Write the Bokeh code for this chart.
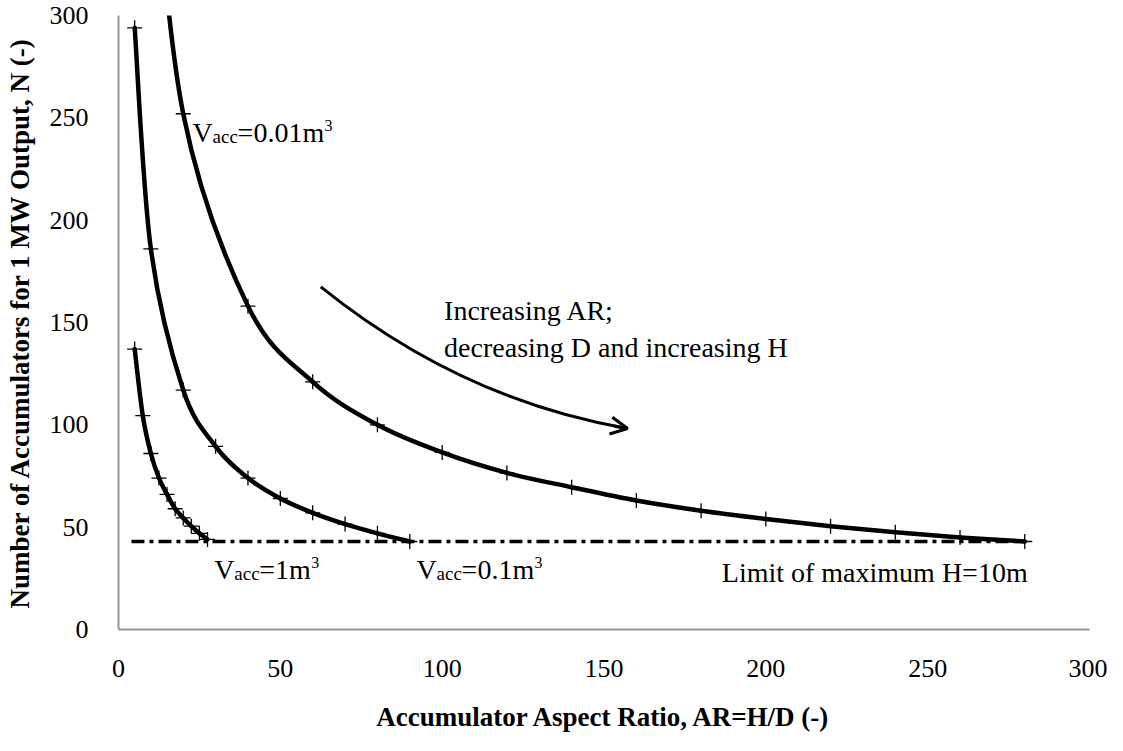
from bokeh.plotting import figure
from bokeh.models import Range1d, FixedTicker, Arrow, OpenHead
from bokeh.embed import file_html
from bokeh.resources import INLINE
from bokeh.core.properties import value

# ---------------- data ----------------
# V_acc = 0.01 m3 (first point lies above the plotted range)
ar_v001 = [10, 20, 40, 60, 80, 100, 120, 140, 160, 180, 200, 220, 240, 260, 280]
n_v001 = [395, 252, 158, 121, 100, 86.5, 76.5, 69.5, 63, 58, 54, 50.5, 47.5, 45, 43]
# V_acc = 0.1 m3
ar_v01 = [5, 10, 20, 30, 40, 50, 60, 70, 80, 90]
n_v01 = [294, 186, 117, 89.5, 74, 64, 57, 51.5, 47, 43]
# V_acc = 1 m3
ar_v1 = [5, 7.5, 10, 12.5, 15, 17.5, 20, 22.5, 25, 27.5]
n_v1 = [137, 104.5, 86, 74, 66, 59, 54.5, 50.5, 47, 44]
# limit of maximum H = 10 m
limit_ar = [4, 280]
limit_n = [43, 43]
# trend arrow (start, bend, end)
arrow_ar = [62.5, 105.8, 157.3]
arrow_n = [167.4, 112.3, 98.2]

x_ticks = [0, 50, 100, 150, 200, 250, 300]
y_ticks = [0, 50, 100, 150, 200, 250, 300]

FONT = "Liberation Serif"

p = figure(width=1107, height=735, output_backend="svg", toolbar_location=None,
           x_range=Range1d(0, 300), y_range=Range1d(0, 300),
           min_border_left=118, min_border_right=18, min_border_top=15,
           min_border_bottom=106)
p.outline_line_color = None
p.grid.visible = False
p.background_fill_color = "white"

for ax, ticks in ((p.xaxis[0], x_ticks), (p.yaxis[0], y_ticks)):
    ax.ticker = FixedTicker(ticks=ticks)
    ax.axis_line_color = "#969696"
    ax.axis_line_width = 2
    ax.major_tick_line_color = None
    ax.minor_tick_line_color = None
    ax.major_label_text_font = FONT
    ax.major_label_text_font_size = "26px"
    ax.major_label_text_color = "black"
    ax.axis_label_text_font = FONT
    ax.axis_label_text_font_size = "27px"
    ax.axis_label_text_font_style = "bold"
    ax.axis_label_text_color = "black"

p.xaxis.axis_label = "Accumulator Aspect Ratio, AR=H/D (-)"
p.yaxis.axis_label = "Number of Accumulators for 1 MW Output, N (-)"
p.xaxis.major_label_standoff = 24
p.xaxis.axis_label_standoff = 22
p.yaxis.major_label_standoff = 24
p.yaxis.axis_label_standoff = 12


def smooth(xs, ys):
    """Cubic Bezier segments (Catmull-Rom style smoothing, as a smoothed line)."""
    n = len(xs)
    seg = dict(x0=[], y0=[], x1=[], y1=[], cx0=[], cy0=[], cx1=[], cy1=[])
    for i in range(n - 1):
        a = max(i - 1, 0)
        b = min(i + 2, n - 1)
        seg["x0"].append(xs[i]); seg["y0"].append(ys[i])
        seg["x1"].append(xs[i + 1]); seg["y1"].append(ys[i + 1])
        seg["cx0"].append(xs[i] + (xs[i + 1] - xs[a]) / 6)
        seg["cy0"].append(ys[i] + (ys[i + 1] - ys[a]) / 6)
        seg["cx1"].append(xs[i + 1] - (xs[b] - xs[i]) / 6)
        seg["cy1"].append(ys[i + 1] - (ys[b] - ys[i]) / 6)
    return seg


# limit line
p.line(limit_ar, limit_n, line_color="black", line_width=3.5, line_dash="13 5 4 5")

for xs, ys in ((ar_v001, n_v001), (ar_v01, n_v01), (ar_v1, n_v1)):
    s = smooth(xs, ys)
    p.bezier(x0=s["x0"], y0=s["y0"], x1=s["x1"], y1=s["y1"],
             cx0=s["cx0"], cy0=s["cy0"], cx1=s["cx1"], cy1=s["cy1"],
             line_color="black", line_width=4.5, line_cap="round")
    p.scatter(xs, ys, marker="cross", size=15, line_color="black", line_width=1.3)

# trend arrow
p.quadratic(x0=[arrow_ar[0]], y0=[arrow_n[0]], x1=[arrow_ar[2]], y1=[arrow_n[2]],
            cx=[arrow_ar[1]], cy=[arrow_n[1]], line_color="black", line_width=3)
hx = arrow_ar[2] - 0.08 * (arrow_ar[2] - arrow_ar[1])
hy = arrow_n[2] - 0.08 * (arrow_n[2] - arrow_n[1])
p.add_layout(Arrow(end=OpenHead(size=17, line_width=3, line_color="black"),
                   x_start=hx, y_start=hy, x_end=arrow_ar[2], y_end=arrow_n[2],
                   line_width=3, line_color="black"))


def txt(x, y, s, size="28px", dx=0, dy=0, align="left"):
    p.text(x=[x], y=[y], text=[s], text_font=value(FONT), text_font_size=size,
           text_color="black", text_align=align, text_baseline="alphabetic",
           x_offset=dx, y_offset=dy)


def vacc(x, y, rest, rest_w):
    txt(x, y, "V")
    txt(x, y, "acc", size="19px", dx=20, dy=4)
    txt(x, y, rest, dx=45)
    txt(x, y, "3", size="16px", dx=45 + rest_w, dy=-7)


vacc(22.9, 242.6, "=0.01m", 87)
vacc(29.6, 29.2, "=1m", 52)
vacc(92.1, 29.2, "=0.1m", 73)
txt(280.9, 27.7, "Limit of maximum H=10m", align="right")
txt(100.6, 155.7, "Increasing AR;")
txt(100.6, 137.6, "decreasing D and increasing H")

open("out.html", "w").write(file_html(p, INLINE))
